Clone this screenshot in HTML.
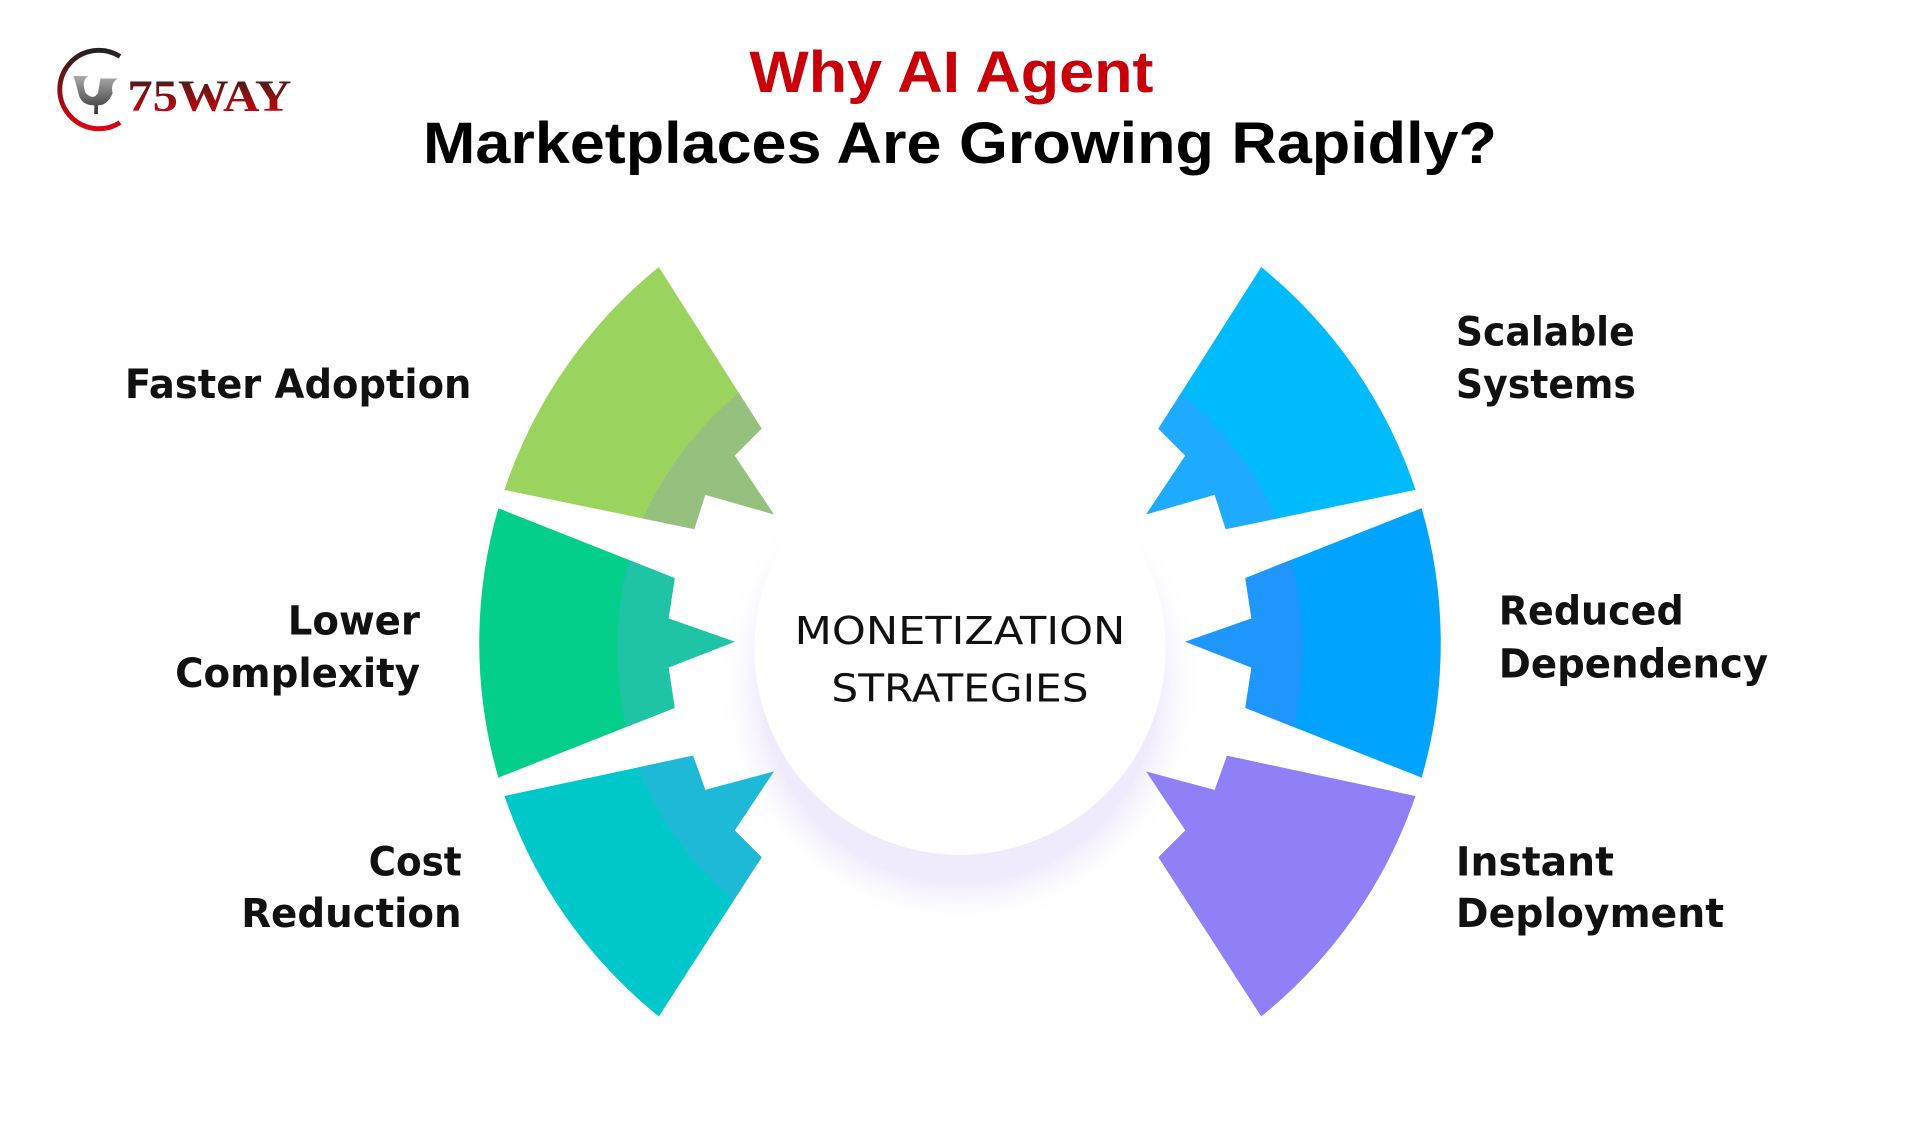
<!DOCTYPE html>
<html><head><meta charset="utf-8"><style>
html,body{margin:0;padding:0;background:#fff;}
svg{display:block;}
</style></head><body>
<svg width="1920" height="1139" viewBox="0 0 1568 930" xmlns="http://www.w3.org/2000/svg">
<defs>
<radialGradient id="glow" cx="0.5" cy="0.5" r="0.5">
<stop offset="0.8" stop-color="#efeafc"/>
<stop offset="1" stop-color="#ffffff" stop-opacity="0"/>
</radialGradient>
<linearGradient id="lg" x1="0" y1="0" x2="0" y2="1">
<stop offset="0" stop-color="#222"/><stop offset="0.5" stop-color="#8a1010"/><stop offset="1" stop-color="#e00010"/>
</linearGradient>
<linearGradient id="gg" x1="0" y1="0" x2="0" y2="1">
<stop offset="0" stop-color="#aaa"/><stop offset="1" stop-color="#333"/>
</linearGradient>
<clipPath id="c1"><path id="p1" d="M538,218 A395,395 0 0 0 412,400 L567,432 L576,404 L632,420 L600,372 L622,350 Z"/></clipPath>
<clipPath id="c2"><path id="p2" d="M407,415 A395,395 0 0 0 407,635 L551,578 L546,545 L600,524 L546,505 L551,472 Z"/></clipPath>
<clipPath id="c3"><path id="p3" d="M412,650 A395,395 0 0 0 538,830 L622,700 L600,678 L632,630 L576,645 L566,617 Z"/></clipPath>
</defs>

<!-- logo -->
<path d="M98,46 A32,32 0 1 0 98,100" fill="none" stroke="url(#lg)" stroke-width="4"/>
<path d="M60,62 L72,62 Q66,66 70,76 Q76,82 80,76 L82,64 L96,64 Q90,68 92,76 Q88,86 80,86 L80,93 L77,93 L77,86 Q66,86 64,76 Q62,68 60,62 Z" fill="url(#gg)"/>
<text x="104" y="90" font-family="Liberation Serif, serif" font-weight="bold" font-size="36" fill="url(#lg)" textLength="134" lengthAdjust="spacingAndGlyphs">75WAY</text>

<!-- title -->
<text x="777" y="75" text-anchor="middle" font-family="Liberation Sans, sans-serif" font-weight="bold" font-size="48" fill="#c8000a" textLength="330" lengthAdjust="spacingAndGlyphs">Why AI Agent</text>
<text x="784" y="133" text-anchor="middle" font-family="Liberation Sans, sans-serif" font-weight="bold" font-size="48" fill="#000" textLength="877" lengthAdjust="spacingAndGlyphs">Marketplaces Are Growing Rapidly?</text>

<!-- center glow -->
<circle cx="784" cy="560" r="200" fill="url(#glow)"/>
<circle cx="784" cy="530" r="168" fill="#fff"/>
<text x="784" y="526" text-anchor="middle" font-family="DejaVu Sans, sans-serif" font-size="31" fill="#111" textLength="270" lengthAdjust="spacingAndGlyphs">MONETIZATION</text>
<text x="784" y="573" text-anchor="middle" font-family="DejaVu Sans, sans-serif" font-size="31" fill="#111" textLength="210" lengthAdjust="spacingAndGlyphs">STRATEGIES</text>

<!-- left segments -->
<use href="#p1" fill="#9ad35e"/>
<circle cx="784" cy="540" r="284" fill="#96c07e" clip-path="url(#c1)"/>
<use href="#p2" fill="#03cf8a"/>
<circle cx="784" cy="530" r="280" fill="#1fc3a5" clip-path="url(#c2)"/>
<use href="#p3" fill="#00c8ca"/>
<circle cx="784" cy="520" r="284" fill="#1fb9d8" clip-path="url(#c3)"/>

<!-- right segments (mirrored) -->
<g transform="translate(1568,0) scale(-1,1)">
<use href="#p1" fill="#00bbfb"/>
<circle cx="784" cy="540" r="284" fill="#1eaaff" clip-path="url(#c1)"/>
<use href="#p2" fill="#00a3fd"/>
<circle cx="784" cy="530" r="280" fill="#1f96fb" clip-path="url(#c2)"/>
<use href="#p3" fill="#8f80f7"/>
</g>

<!-- labels -->
<g font-family="DejaVu Sans, Liberation Sans, sans-serif" font-weight="bold" font-size="33" fill="#111">
<text x="385" y="325" text-anchor="end" textLength="283" lengthAdjust="spacingAndGlyphs">Faster Adoption</text>
<text x="343" y="518" text-anchor="end" textLength="108" lengthAdjust="spacingAndGlyphs">Lower</text>
<text x="343" y="561" text-anchor="end" textLength="200" lengthAdjust="spacingAndGlyphs">Complexity</text>
<text x="377" y="715" text-anchor="end" textLength="76" lengthAdjust="spacingAndGlyphs">Cost</text>
<text x="377" y="757" text-anchor="end" textLength="180" lengthAdjust="spacingAndGlyphs">Reduction</text>
<text x="1189" y="282" textLength="146" lengthAdjust="spacingAndGlyphs">Scalable</text>
<text x="1189" y="325" textLength="147" lengthAdjust="spacingAndGlyphs">Systems</text>
<text x="1224" y="510" textLength="151" lengthAdjust="spacingAndGlyphs">Reduced</text>
<text x="1224" y="553" textLength="220" lengthAdjust="spacingAndGlyphs">Dependency</text>
<text x="1189" y="715" textLength="129" lengthAdjust="spacingAndGlyphs">Instant</text>
<text x="1189" y="757" textLength="219" lengthAdjust="spacingAndGlyphs">Deployment</text>
</g>
</svg>
</body></html>
